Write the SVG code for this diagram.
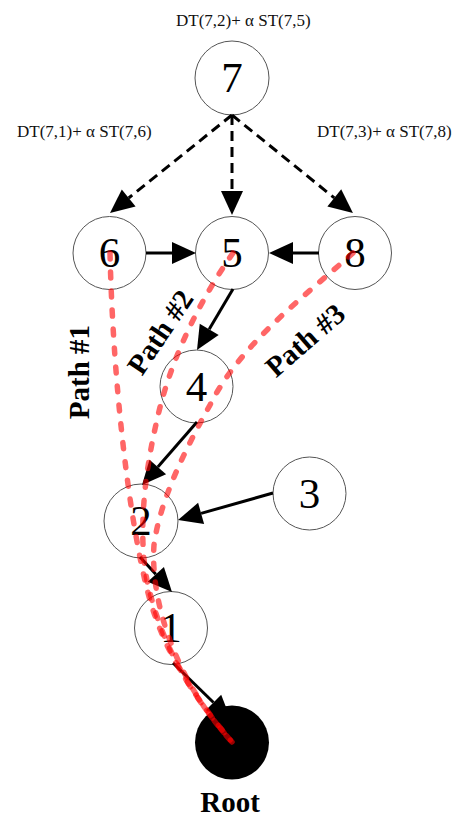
<svg xmlns="http://www.w3.org/2000/svg" width="454" height="819" viewBox="0 0 454 819">
<style>
.node{fill:#fff;stroke:#555;stroke-width:1}
.num{font-family:"Liberation Serif","Times New Roman",serif;font-size:43px;fill:#000;text-anchor:middle}
.lbl{font-family:"Liberation Serif","Times New Roman",serif;font-size:17px;fill:#111}
.bold{font-family:"Liberation Serif","Times New Roman",serif;font-size:29px;font-weight:bold;fill:#000;text-anchor:middle}
.edge{stroke:#000;stroke-width:3;fill:none;marker-end:url(#ah)}
.dash{stroke-dasharray:10 6}
.path{stroke:#ff0000;stroke-opacity:0.6;stroke-width:5.5;fill:none;stroke-dasharray:6 13;stroke-linecap:round}
</style>
<defs>
<marker id="ah" markerUnits="userSpaceOnUse" markerWidth="24" markerHeight="22" refX="0" refY="11" orient="auto" overflow="visible">
<path d="M0,0 L24,11 L0,22 z" fill="#000"/>
</marker>
</defs>
<rect width="454" height="819" fill="#fff"/>
<g id="node-7"><circle class="node" cx="232" cy="78" r="37"/><text class="num" x="232" y="92">7</text></g>
<g id="node-6"><circle class="node" cx="109.5" cy="253" r="36.5"/><text class="num" x="109.5" y="267">6</text></g>
<g id="node-5"><circle class="node" cx="232" cy="253" r="36.5"/><text class="num" x="232" y="267">5</text></g>
<g id="node-8"><circle class="node" cx="355" cy="253" r="36.5"/><text class="num" x="355" y="267">8</text></g>
<g id="node-4"><circle class="node" cx="196.5" cy="386.5" r="36.5"/><text class="num" x="196.5" y="400.5">4</text></g>
<g id="node-3"><circle class="node" cx="309.5" cy="493.5" r="36.5"/><text class="num" x="309.5" y="507.5">3</text></g>
<g id="node-2"><circle class="node" cx="141" cy="521" r="37"/><text class="num" x="141" y="535">2</text></g>
<g id="node-1"><circle class="node" cx="171" cy="628" r="36.5"/><text class="num" x="171" y="642">1</text></g>
<g id="node-root"><circle cx="232" cy="742.5" r="37" fill="#000"/><text class="bold" x="230" y="812">Root</text></g>
<g id="labels">
<text class="lbl" x="176" y="26">DT(7,2)+ α ST(7,5)</text>
<text class="lbl" x="17" y="137">DT(7,1)+ α ST(7,6)</text>
<text class="lbl" x="317" y="137">DT(7,3)+ α ST(7,8)</text>
</g>
<g id="connectors">
<line class="edge dash" x1="232" y1="115" x2="128.7" y2="198"/>
<line class="edge dash" x1="232" y1="115" x2="232" y2="191"/>
<line class="edge dash" x1="232" y1="115" x2="334.3" y2="197.9"/>
<line class="edge" x1="146" y1="253" x2="172" y2="253"/>
<line class="edge" x1="319" y1="253" x2="293" y2="253"/>
<line class="edge" x1="233" y1="289" x2="209.2" y2="329.3"/>
<line class="edge" x1="197" y1="422" x2="157.8" y2="466.9"/>
<line class="edge" x1="273" y1="493" x2="201.1" y2="513.4"/>
<line class="edge" x1="140" y1="557" x2="155.8" y2="574.3"/>
<line class="edge" x1="173" y1="663" x2="213.5" y2="702.5"/>
</g>
<g id="paths">
<path class="path" d="M110,253 C113,380 128,510 146,585 C158,635 180,680 232,742"/>
<path class="path" d="M233,253 C200,300 170,360 157,420 C143,480 138,540 148,585 C160,635 182,685 232,742"/>
<path class="path" d="M353,253 C300,300 240,345 210,405 C185,450 160,500 154,545 C150,600 175,680 232,742"/>
<text class="bold" transform="translate(79,372) rotate(-90)" y="10">Path #1</text>
<text class="bold" transform="translate(160,332) rotate(-56)" y="10">Path #2</text>
<text class="bold" transform="translate(305,340) rotate(-41)" y="10">Path #3</text>
</g>
</svg>
